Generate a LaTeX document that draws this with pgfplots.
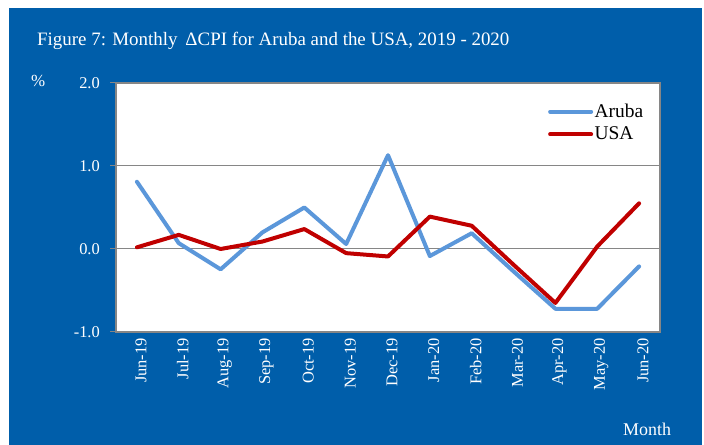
\documentclass[border=0pt]{standalone}
\usepackage{pgfplots}
\pgfplotsset{compat=1.18}
\usepackage{fontspec}
\setmainfont{Liberation Serif}
\definecolor{bgblue}{RGB}{0,94,170}
\definecolor{aruba}{RGB}{91,151,218}
\definecolor{usa}{RGB}{192,0,0}
\definecolor{axgray}{RGB}{134,134,134}
\begin{document}
\begin{tikzpicture}[x=1bp,y=1bp]
\fill[white] (0,0) rectangle (704,445);
\fill[bgblue] (9,0) rectangle (702,437);
\begin{axis}[
 at={(116bp,113bp)}, anchor=south west,
 scale only axis, width=544bp, height=249bp,
 xmin=-0.5, xmax=12.5, ymin=-1, ymax=2,
 axis background/.style={fill=white},
 axis line style={axgray, line width=1.2bp},
 ytick={-1,0,1,2}, yticklabels={-1.0,0.0,1.0,2.0},
 xtick={0,...,12},
 xticklabels={Jun-19,Jul-19,Aug-19,Sep-19,Oct-19,Nov-19,Dec-19,Jan-20,Feb-20,Mar-20,Apr-20,May-20,Jun-20},
 xtick pos=bottom, ytick pos=left,
 tick align=outside, major tick length=6bp,
 xtick style={draw=none},
 ytick style={axgray, line width=1bp},
 x tick label style={rotate=90, anchor=east, inner sep=0pt, text=white, font=\fontsize{16.5}{18}\selectfont, yshift=-4bp},
 y tick label style={anchor=east, inner sep=0pt, text=white, font=\fontsize{16.5}{18}\selectfont, xshift=-10bp},
 ymajorgrids, grid style={axgray, line width=1bp},
 legend style={draw=none, fill=none, at={(0.794,0.922)}, anchor=north west,
   font=\fontsize{19.5}{21}\selectfont, inner sep=0pt, row sep=5bp,
   nodes={inner sep=1.5bp}},
 legend cell align=left,
 legend image code/.code={\draw[#1] (0bp,0bp) -- (41bp,0bp);},
]
\addplot[aruba, line width=4bp, line join=round, line cap=round] coordinates {
 (0,0.81) (1,0.07) (2,-0.245) (3,0.20) (4,0.50) (5,0.06) (6,1.13)
 (7,-0.085) (8,0.19) (9,-0.27) (10,-0.72) (11,-0.72) (12,-0.21)};
\addlegendentry{Aruba}
\addplot[usa, line width=4bp, line join=round, line cap=round] coordinates {
 (0,0.02) (1,0.17) (2,0.00) (3,0.09) (4,0.24) (5,-0.05) (6,-0.09)
 (7,0.39) (8,0.28) (9,-0.19) (10,-0.65) (11,0.03) (12,0.55)};
\addlegendentry{USA}
\end{axis}
\node[anchor=base west, text=white, inner sep=0pt, font=\fontsize{19}{22}\selectfont] at (37,399) {Figure 7: Monthly \,ΔCPI for Aruba and the USA, 2019 - 2020};
\node[anchor=base west, text=white, inner sep=0pt, font=\fontsize{17}{19}\selectfont] at (31,358) {\%};
\node[anchor=base west, text=white, inner sep=0pt, font=\fontsize{18}{20}\selectfont] at (623,9) {Month};
\end{tikzpicture}
\end{document}
